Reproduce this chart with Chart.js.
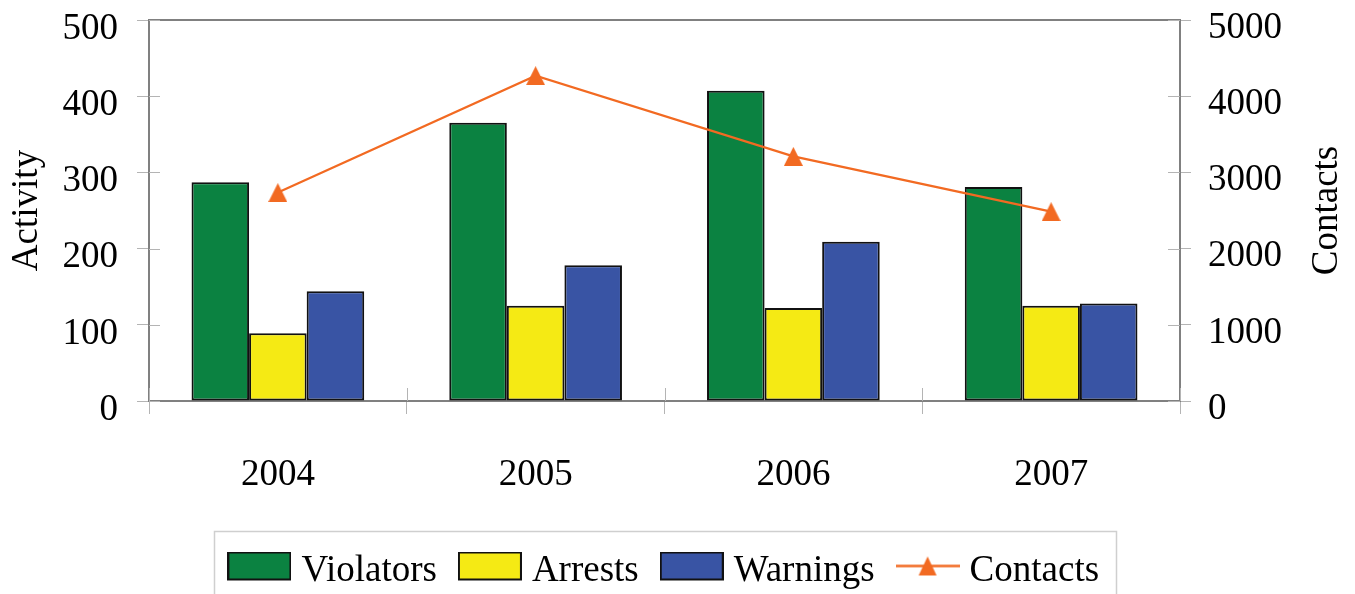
<!DOCTYPE html>
<html><head><meta charset="utf-8">
<script src="https://cdn.jsdelivr.net/npm/chart.js@4/dist/chart.umd.min.js"></script>
<style>html,body{margin:0;padding:0;background:#fff}#wrap{width:1355px;height:594px}</style>
</head><body><div id="wrap"><canvas id="c" width="1355" height="594"></canvas></div>
<script>
const categories = ['2004', '2005', '2006', '2007'];
const violators = [287, 365, 407, 281];
const arrests = [89, 125, 122, 125];
const warnings = [144, 178, 209, 128];
const contacts = [2735, 4270, 3210, 2485];
const activityTicks = [0, 100, 200, 300, 400, 500];
const contactTicks = [0, 1000, 2000, 3000, 4000, 5000];
const seriesNames = ['Violators', 'Arrests', 'Warnings', 'Contacts'];
const axisTitles = ['Activity', 'Contacts'];

const GREEN = '#0b8241', YELLOW = '#f5ea14', BLUE = '#3954a4', ORANGE = '#f26a22';
const FONT = 'Liberation Serif';

function boxImg(color) {
  const c = document.createElement('canvas'); c.width = 64; c.height = 40;
  const g = c.getContext('2d');
  g.fillStyle = color; g.fillRect(0, 0, 64, 29);
  g.strokeStyle = '#111'; g.lineWidth = 2; g.strokeRect(1, 1, 62, 27);
  return c;
}
function lineImg() {
  const c = document.createElement('canvas'); c.width = 64; c.height = 40;
  const g = c.getContext('2d');
  g.strokeStyle = ORANGE; g.lineWidth = 2.5;
  g.beginPath(); g.moveTo(0, 14.5); g.lineTo(64, 14.5); g.stroke();
  g.fillStyle = ORANGE; g.beginPath();
  g.moveTo(32, 5); g.lineTo(41, 24); g.lineTo(23, 24); g.closePath(); g.fill();
  return c;
}
function triImg() {
  const c = document.createElement('canvas'); c.width = 19; c.height = 19;
  const g = c.getContext('2d');
  g.fillStyle = ORANGE; g.beginPath();
  g.moveTo(9.5, 0); g.lineTo(19, 19); g.lineTo(0, 19); g.closePath(); g.fill();
  return c;
}
const legendImgs = [boxImg(GREEN), boxImg(YELLOW), boxImg(BLUE), lineImg()];
const pointImg = triImg();

const decor = {
  id: 'decor',
  afterDatasetsDraw(chart) {
    const {ctx, chartArea: a, scales} = chart;
    ctx.save();
    ctx.strokeStyle = '#808080'; ctx.lineWidth = 2;
    ctx.beginPath(); ctx.moveTo(a.left - 1, a.top); ctx.lineTo(a.right + 1, a.top); ctx.stroke();
    ctx.strokeStyle = '#b4b4b4'; ctx.lineWidth = 1;
    ctx.beginPath();
    scales.y.ticks.forEach(t => {
      const py = Math.round(scales.y.getPixelForValue(t.value)) + 0.5;
      ctx.moveTo(a.left, py); ctx.lineTo(a.left + 11, py);
    });
    scales.y1.ticks.forEach(t => {
      const py = Math.round(scales.y1.getPixelForValue(t.value)) + 0.5;
      ctx.moveTo(a.right - 12, py); ctx.lineTo(a.right, py);
    });
    for (let i = 0; i <= categories.length; i++) {
      const px = Math.round(scales.x.getPixelForValue(i - 0.5)) + 0.5;
      ctx.moveTo(px, a.bottom - 13); ctx.lineTo(px, a.bottom);
    }
    ctx.stroke();
    ctx.restore();
  },
  afterDraw(chart) {
    const {ctx, chartArea: a, legend} = chart;
    ctx.save();
    ctx.fillStyle = '#000';
    ctx.font = '37px "' + FONT + '"';
    ctx.textAlign = 'center'; ctx.textBaseline = 'alphabetic';
    ctx.translate(1336.5, (a.top + a.bottom) / 2);
    ctx.rotate(-Math.PI / 2);
    ctx.fillText(axisTitles[1], 0, 0);
    ctx.restore();
    const hb = legend.legendHitBoxes;
    if (hb && hb.length) {
      const l = hb[0].left - 8.5 - 13;
      const last = hb[hb.length - 1];
      const r = last.left + last.width + 17;
      const t = legend.top + 7.5;
      ctx.save();
      ctx.strokeStyle = '#cfcfcf'; ctx.lineWidth = 1.5;
      ctx.strokeRect(Math.round(l) + 0.5, Math.round(t) + 0.5, Math.round(r - l), 200);
      ctx.restore();
    }
  }
};

new Chart(document.getElementById('c'), {
  type: 'bar',
  data: {
    labels: categories,
    datasets: [
      {label: seriesNames[0], data: violators, backgroundColor: GREEN, borderColor: '#111', borderWidth: 2, borderSkipped: false, yAxisID: 'y'},
      {label: seriesNames[1], data: arrests, backgroundColor: YELLOW, borderColor: '#111', borderWidth: 2, borderSkipped: false, yAxisID: 'y'},
      {label: seriesNames[2], data: warnings, backgroundColor: BLUE, borderColor: '#111', borderWidth: 2, borderSkipped: false, yAxisID: 'y'},
      {type: 'line', label: seriesNames[3], data: contacts, borderColor: ORANGE, backgroundColor: ORANGE, borderWidth: 2.2,
       pointStyle: pointImg, tension: 0, yAxisID: 'y1', order: -1}
    ]
  },
  options: {
    responsive: false,
    devicePixelRatio: 1,
    animation: false,
    datasets: {bar: {barPercentage: 1, categoryPercentage: 0.67}},
    layout: {padding: {top: 20, left: 0, right: 20, bottom: -6}},
    plugins: {
      tooltip: {enabled: false},
      legend: {
        position: 'bottom',
        labels: {
          usePointStyle: true,
          pointStyleWidth: 47,
          padding: 29.5,
          color: '#000',
          font: {family: FONT, size: 37},
          sort: (a, b) => a.datasetIndex - b.datasetIndex,
          generateLabels(chart) {
            const items = Chart.defaults.plugins.legend.labels.generateLabels(chart);
            items.forEach(it => { it.pointStyle = legendImgs[it.datasetIndex]; it.rotation = 0; });
            return items;
          }
        }
      }
    },
    scales: {
      x: {
        offset: true,
        afterFit(s) { s.height = 122.5; s.paddingLeft = 0; s.paddingRight = 0; },
        grid: {display: true, drawOnChartArea: false, offset: true, tickLength: 13, color: '#b4b4b4', lineWidth: 1},
        border: {display: true, color: '#808080', width: 2},
        ticks: {color: '#000', padding: 43, font: {family: FONT, size: 37, lineHeight: 1}}
      },
      y: {
        position: 'left',
        min: activityTicks[0], max: activityTicks[activityTicks.length - 1],
        afterFit(s) { s.width = 149; s.paddingTop = 0; s.paddingBottom = 0; },
        grid: {display: true, drawOnChartArea: false, tickLength: 12, color: '#b4b4b4', lineWidth: 1},
        border: {display: true, color: '#808080', width: 2},
        ticks: {stepSize: activityTicks[1] - activityTicks[0], color: '#000', padding: 19, labelOffset: 9,
                callback: v => String(v),
                font: {family: FONT, size: 37, lineHeight: 1}},
        title: {display: true, text: axisTitles[0], color: '#000', padding: {top: 9, bottom: 0},
                font: {family: FONT, size: 37, lineHeight: 1}}
      },
      y1: {
        position: 'right',
        min: contactTicks[0], max: contactTicks[contactTicks.length - 1],
        afterFit(s) { s.width = 155; s.paddingTop = 0; s.paddingBottom = 0; },
        grid: {display: true, drawOnChartArea: false, tickLength: 11, color: '#b4b4b4', lineWidth: 1},
        border: {display: true, color: '#808080', width: 2},
        ticks: {stepSize: contactTicks[1] - contactTicks[0], color: '#000', padding: 17, labelOffset: 8,
                callback: v => String(v),
                font: {family: FONT, size: 37, lineHeight: 1}}
      }
    }
  },
  plugins: [decor]
});
</script></body></html>
